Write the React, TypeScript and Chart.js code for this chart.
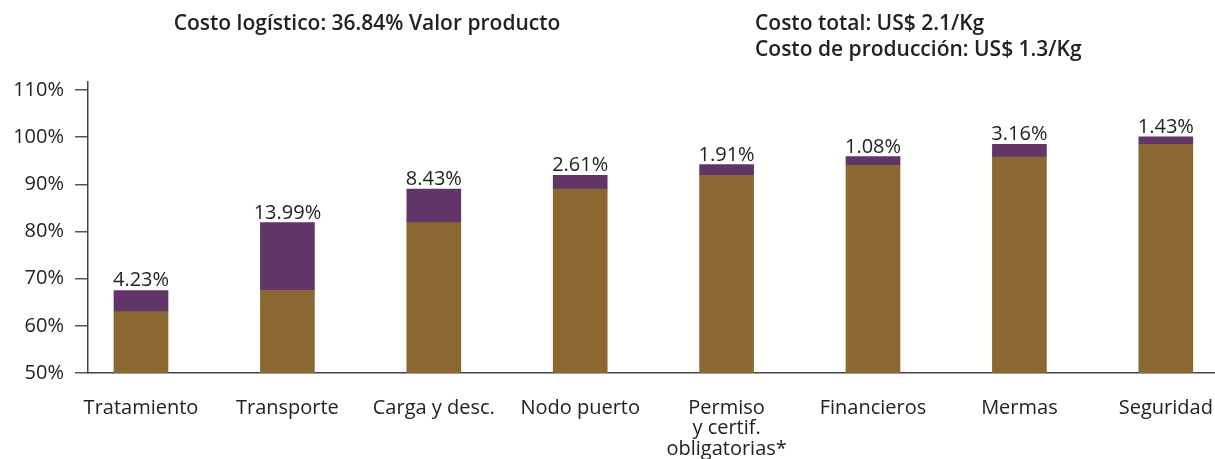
import React, { useEffect, useRef } from "react";
import { Chart, registerables } from "chart.js";

Chart.register(...registerables);

const categories: (string | string[])[] = [
  "Tratamiento",
  "Transporte",
  "Carga y desc.",
  "Nodo puerto",
  ["Permiso", "y certif.", "obligatorias*"],
  "Financieros",
  "Mermas",
  "Seguridad",
];
const baseValues = [63.0, 67.5, 81.9, 89.0, 91.9, 94.0, 95.8, 98.5];
const topValues = [67.5, 81.9, 89.0, 91.9, 94.2, 95.9, 98.5, 100.1];
const shareLabels = ["4.23%", "13.99%", "8.43%", "2.61%", "1.91%", "1.08%", "3.16%", "1.43%"];
const yTicks = [50, 60, 70, 80, 90, 100, 110];
const titleLeft = "Costo logístico: 36.84% Valor producto";
const titleRight = ["Costo total: US$ 2.1/Kg", "Costo de producción: US$ 1.3/Kg"];

const BROWN = "#8B6832";
const PURPLE = "#623568";
const FONT = "'Open Sans'";

const annotate = {
  id: "annotate",
  afterDatasetsDraw(chart: any) {
    const ctx = chart.ctx;
    const meta = chart.getDatasetMeta(1);
    ctx.save();
    ctx.fillStyle = "#222";
    ctx.font = `20px ${FONT}`;
    ctx.textAlign = "center";
    ctx.textBaseline = "alphabetic";
    meta.data.forEach((el: any, i: number) => {
      ctx.fillText(shareLabels[i], el.x, el.y - 4);
    });
    ctx.restore();
  },
  afterDraw(chart: any) {
    const ctx = chart.ctx;
    ctx.save();
    ctx.fillStyle = "#222";
    ctx.font = `600 21px ${FONT}`;
    ctx.textBaseline = "middle";
    ctx.textAlign = "center";
    ctx.fillText(titleLeft, 367, 24);
    ctx.textAlign = "left";
    titleRight.forEach((t, i) => ctx.fillText(t, 755, 24 + i * 26));
    ctx.restore();
  },
};

export default function App() {
  const ref = useRef<HTMLCanvasElement>(null);
  useEffect(() => {
    document.body.style.margin = "0";
    const brownData = baseValues.map((v, i) => ({ x: i, y: v }));
    const purpleData = baseValues.map((v, i) => ({ x: i, y: [v, topValues[i]] }));
    const chart = new Chart(ref.current!, {
      type: "bar",
      data: {
        datasets: [
          { data: brownData as any, backgroundColor: BROWN, barThickness: 54, grouped: false } as any,
          { data: purpleData as any, backgroundColor: PURPLE, barThickness: 54, grouped: false } as any,
        ],
      },
      options: {
        responsive: false,
        animation: false,
        layout: { padding: { top: 82, left: 0, right: 0, bottom: 0 } },
        plugins: { legend: { display: false }, tooltip: { enabled: false } },
        scales: {
          x: {
            type: "linear",
            offset: false,
            min: -0.362,
            max: 7.336,
            grid: { display: false, drawTicks: false },
            border: { display: true, color: "#444", width: 1.5 },
            afterBuildTicks: (axis: any) => {
              axis.ticks = categories.map((_, i) => ({ value: i }));
            },
            afterFit: (s: any) => {
              s.height = 86;
              s.paddingLeft = 0;
              s.paddingRight = 0;
            },
            ticks: {
              autoSkip: false,
              maxRotation: 0,
              padding: 25,
              color: "#222",
              font: { family: FONT, size: 20, lineHeight: 1.02 },
              callback: (v: any) => categories[v as number] as any,
            },
          },
          y: {
            min: 50,
            max: 111.7,
            grid: { display: true, drawOnChartArea: false, tickLength: 13, color: "#555", lineWidth: 1.5 },
            border: { display: true, color: "#444", width: 1.5 },
            afterBuildTicks: (axis: any) => {
              axis.ticks = yTicks.map((v) => ({ value: v }));
            },
            afterFit: (s: any) => {
              s.width = 88;
            },
            ticks: {
              padding: 11,
              color: "#222",
              font: { family: FONT, size: 20 },
              callback: (v: any) => `${v}%`,
            },
          },
        },
      },
      plugins: [annotate],
    });
    return () => chart.destroy();
  }, []);
  return <canvas ref={ref} width={1215} height={459} style={{ display: "block" }} />;
}
